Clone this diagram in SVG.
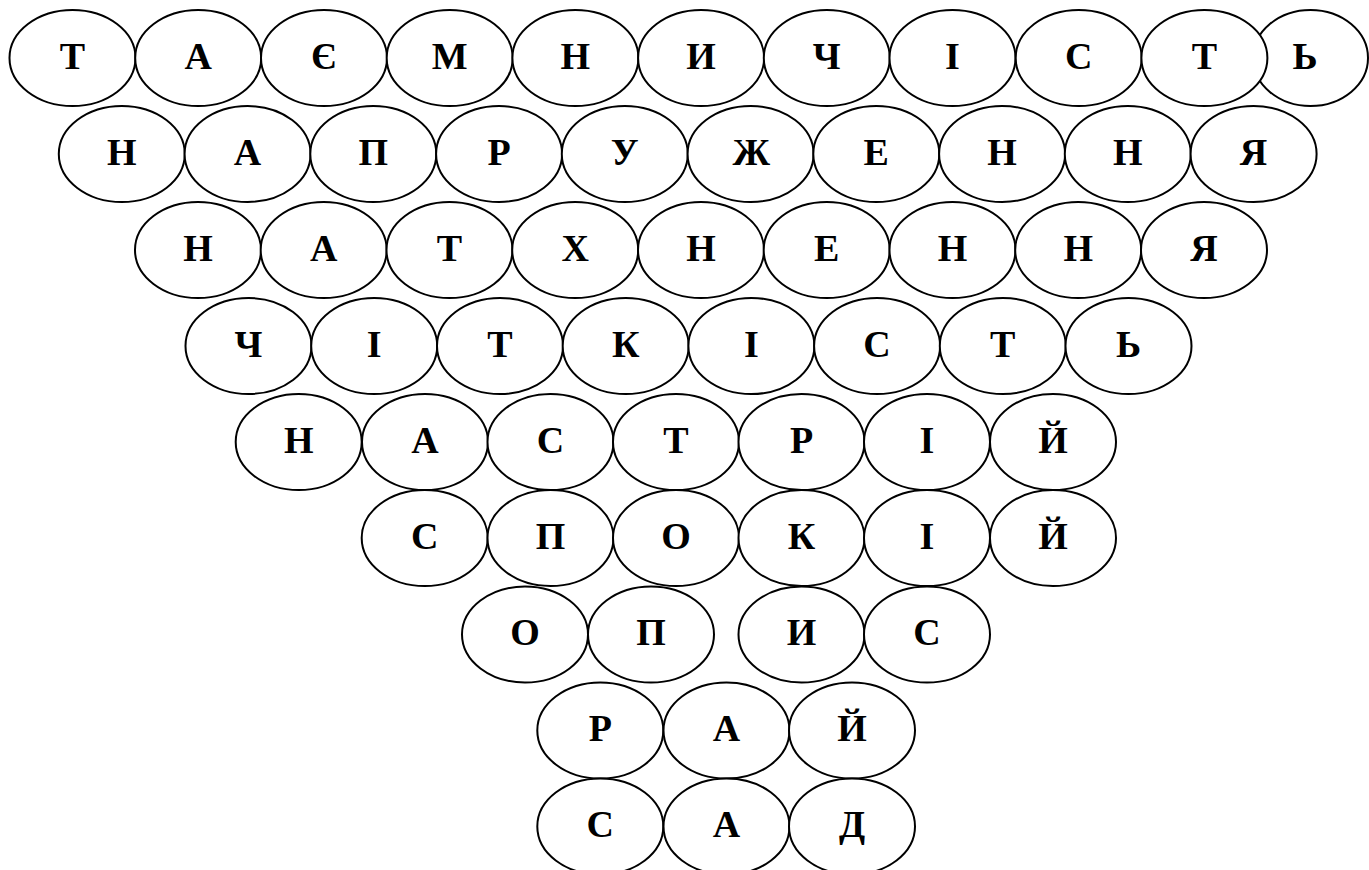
<svg xmlns="http://www.w3.org/2000/svg" width="1369" height="870" viewBox="0 0 1369 870">
<style>
.n ellipse{fill:#fff;stroke:#000;stroke-width:2}
.n text{font-family:"Liberation Serif","Times New Roman",serif;font-weight:bold;font-size:38px;text-anchor:middle;fill:#000}
</style>
<rect width="1369" height="870" fill="#fff"/>
<g id="connectors"></g>
<g id="row1">
<g id="r1-1" class="n"><ellipse cx="72.5" cy="58" rx="63" ry="48"/><text x="72.5" y="68.5">Т</text></g>
<g id="r1-2" class="n"><ellipse cx="198.2" cy="58" rx="63" ry="48"/><text x="198.2" y="68.5">А</text></g>
<g id="r1-3" class="n"><ellipse cx="324" cy="58" rx="63" ry="48"/><text x="324" y="68.5">Є</text></g>
<g id="r1-4" class="n"><ellipse cx="449.7" cy="58" rx="63" ry="48"/><text x="449.7" y="68.5">М</text></g>
<g id="r1-5" class="n"><ellipse cx="575.4" cy="58" rx="63" ry="48"/><text x="575.4" y="68.5">Н</text></g>
<g id="r1-6" class="n"><ellipse cx="701.1" cy="58" rx="63" ry="48"/><text x="701.1" y="68.5">И</text></g>
<g id="r1-7" class="n"><ellipse cx="826.8" cy="58" rx="63" ry="48"/><text x="826.8" y="68.5">Ч</text></g>
<g id="r1-8" class="n"><ellipse cx="952.5" cy="58" rx="63" ry="48"/><text x="952.5" y="68.5">І</text></g>
<g id="r1-11" class="n"><ellipse cx="1310.5" cy="58" rx="57.5" ry="48"/><text x="1305" y="68.5">Ь</text></g>
<g id="r1-9" class="n"><ellipse cx="1078.7" cy="58" rx="63" ry="48"/><text x="1078.7" y="68.5">С</text></g>
<g id="r1-10" class="n"><ellipse cx="1204.4" cy="58" rx="63" ry="48"/><text x="1204.4" y="68.5">Т</text></g>
</g>
<g id="row2">
<g id="r2-1" class="n"><ellipse cx="121.8" cy="154" rx="63" ry="48"/><text x="121.8" y="164.5">Н</text></g>
<g id="r2-2" class="n"><ellipse cx="247.6" cy="154" rx="63" ry="48"/><text x="247.6" y="164.5">А</text></g>
<g id="r2-3" class="n"><ellipse cx="373.3" cy="154" rx="63" ry="48"/><text x="373.3" y="164.5">П</text></g>
<g id="r2-4" class="n"><ellipse cx="499.1" cy="154" rx="63" ry="48"/><text x="499.1" y="164.5">Р</text></g>
<g id="r2-5" class="n"><ellipse cx="624.8" cy="154" rx="63" ry="48"/><text x="624.8" y="164.5">У</text></g>
<g id="r2-6" class="n"><ellipse cx="750.6" cy="154" rx="63" ry="48"/><text x="751.2" y="164.5">Ж</text></g>
<g id="r2-7" class="n"><ellipse cx="876.3" cy="154" rx="63" ry="48"/><text x="876.3" y="164.5">Е</text></g>
<g id="r2-8" class="n"><ellipse cx="1002.1" cy="154" rx="63" ry="48"/><text x="1002.1" y="164.5">Н</text></g>
<g id="r2-9" class="n"><ellipse cx="1127.8" cy="154" rx="63" ry="48"/><text x="1127.8" y="164.5">Н</text></g>
<g id="r2-10" class="n"><ellipse cx="1253.6" cy="154" rx="63" ry="48"/><text x="1253.6" y="164.5">Я</text></g>
</g>
<g id="row3">
<g id="r3-1" class="n"><ellipse cx="198" cy="250" rx="63" ry="48"/><text x="198" y="260.5">Н</text></g>
<g id="r3-2" class="n"><ellipse cx="323.7" cy="250" rx="63" ry="48"/><text x="323.7" y="260.5">А</text></g>
<g id="r3-3" class="n"><ellipse cx="449.5" cy="250" rx="63" ry="48"/><text x="449.5" y="260.5">Т</text></g>
<g id="r3-4" class="n"><ellipse cx="575.2" cy="250" rx="63" ry="48"/><text x="575.2" y="260.5">Х</text></g>
<g id="r3-5" class="n"><ellipse cx="701" cy="250" rx="63" ry="48"/><text x="701" y="260.5">Н</text></g>
<g id="r3-6" class="n"><ellipse cx="826.7" cy="250" rx="63" ry="48"/><text x="826.7" y="260.5">Е</text></g>
<g id="r3-7" class="n"><ellipse cx="952.5" cy="250" rx="63" ry="48"/><text x="952.5" y="260.5">Н</text></g>
<g id="r3-8" class="n"><ellipse cx="1078.2" cy="250" rx="63" ry="48"/><text x="1078.2" y="260.5">Н</text></g>
<g id="r3-9" class="n"><ellipse cx="1204" cy="250" rx="63" ry="48"/><text x="1204" y="260.5">Я</text></g>
</g>
<g id="row4">
<g id="r4-1" class="n"><ellipse cx="248.5" cy="346" rx="63" ry="48"/><text x="248.5" y="356.5">Ч</text></g>
<g id="r4-2" class="n"><ellipse cx="374.2" cy="346" rx="63" ry="48"/><text x="374.2" y="356.5">І</text></g>
<g id="r4-3" class="n"><ellipse cx="500" cy="346" rx="63" ry="48"/><text x="500" y="356.5">Т</text></g>
<g id="r4-4" class="n"><ellipse cx="625.7" cy="346" rx="63" ry="48"/><text x="625.7" y="356.5">К</text></g>
<g id="r4-5" class="n"><ellipse cx="751.4" cy="346" rx="63" ry="48"/><text x="751.4" y="356.5">І</text></g>
<g id="r4-6" class="n"><ellipse cx="877.1" cy="346" rx="63" ry="48"/><text x="877.1" y="356.5">С</text></g>
<g id="r4-7" class="n"><ellipse cx="1002.8" cy="346" rx="63" ry="48"/><text x="1002.8" y="356.5">Т</text></g>
<g id="r4-8" class="n"><ellipse cx="1128.5" cy="346" rx="63" ry="48"/><text x="1128.5" y="356.5">Ь</text></g>
</g>
<g id="row5">
<g id="r5-1" class="n"><ellipse cx="298.7" cy="442" rx="63" ry="48"/><text x="298.7" y="452.5">Н</text></g>
<g id="r5-2" class="n"><ellipse cx="425" cy="442" rx="63" ry="48"/><text x="425" y="452.5">А</text></g>
<g id="r5-3" class="n"><ellipse cx="550.5" cy="442" rx="63" ry="48"/><text x="550.5" y="452.5">С</text></g>
<g id="r5-4" class="n"><ellipse cx="676" cy="442" rx="63" ry="48"/><text x="676" y="452.5">Т</text></g>
<g id="r5-5" class="n"><ellipse cx="801.5" cy="442" rx="63" ry="48"/><text x="801.5" y="452.5">Р</text></g>
<g id="r5-6" class="n"><ellipse cx="927" cy="442" rx="63" ry="48"/><text x="927" y="452.5">І</text></g>
<g id="r5-7" class="n"><ellipse cx="1053" cy="442" rx="63" ry="48"/><text x="1053" y="452.5">Й</text></g>
</g>
<g id="row6">
<g id="r6-1" class="n"><ellipse cx="424.7" cy="538" rx="63" ry="48"/><text x="424.7" y="548.5">С</text></g>
<g id="r6-2" class="n"><ellipse cx="550.5" cy="538" rx="63" ry="48"/><text x="550.5" y="548.5">П</text></g>
<g id="r6-3" class="n"><ellipse cx="676" cy="538" rx="63" ry="48"/><text x="676" y="548.5">О</text></g>
<g id="r6-4" class="n"><ellipse cx="801.5" cy="538" rx="63" ry="48"/><text x="801.5" y="548.5">К</text></g>
<g id="r6-5" class="n"><ellipse cx="927" cy="538" rx="63" ry="48"/><text x="927" y="548.5">І</text></g>
<g id="r6-6" class="n"><ellipse cx="1053" cy="538" rx="63" ry="48"/><text x="1053" y="548.5">Й</text></g>
</g>
<g id="row7">
<g id="r7-1" class="n"><ellipse cx="525" cy="634.5" rx="63" ry="48"/><text x="525" y="645">О</text></g>
<g id="r7-2" class="n"><ellipse cx="651" cy="634.5" rx="63" ry="48"/><text x="651" y="645">П</text></g>
<g id="r7-3" class="n"><ellipse cx="801.5" cy="634.5" rx="63" ry="48"/><text x="801.5" y="645">И</text></g>
<g id="r7-4" class="n"><ellipse cx="927" cy="634.5" rx="63" ry="48"/><text x="927" y="645">С</text></g>
</g>
<g id="row8">
<g id="r8-1" class="n"><ellipse cx="600.3" cy="730.5" rx="63" ry="48"/><text x="600.3" y="741">Р</text></g>
<g id="r8-2" class="n"><ellipse cx="726.5" cy="730.5" rx="63" ry="48"/><text x="726.5" y="741">А</text></g>
<g id="r8-3" class="n"><ellipse cx="852" cy="730.5" rx="63" ry="48"/><text x="852" y="741">Й</text></g>
</g>
<g id="row9">
<g id="r9-1" class="n"><ellipse cx="600.3" cy="826.5" rx="63" ry="48"/><text x="600.3" y="837">С</text></g>
<g id="r9-2" class="n"><ellipse cx="726.5" cy="826.5" rx="63" ry="48"/><text x="726.5" y="837">А</text></g>
<g id="r9-3" class="n"><ellipse cx="852" cy="826.5" rx="63" ry="48"/><text x="852" y="837">Д</text></g>
</g>
</svg>
